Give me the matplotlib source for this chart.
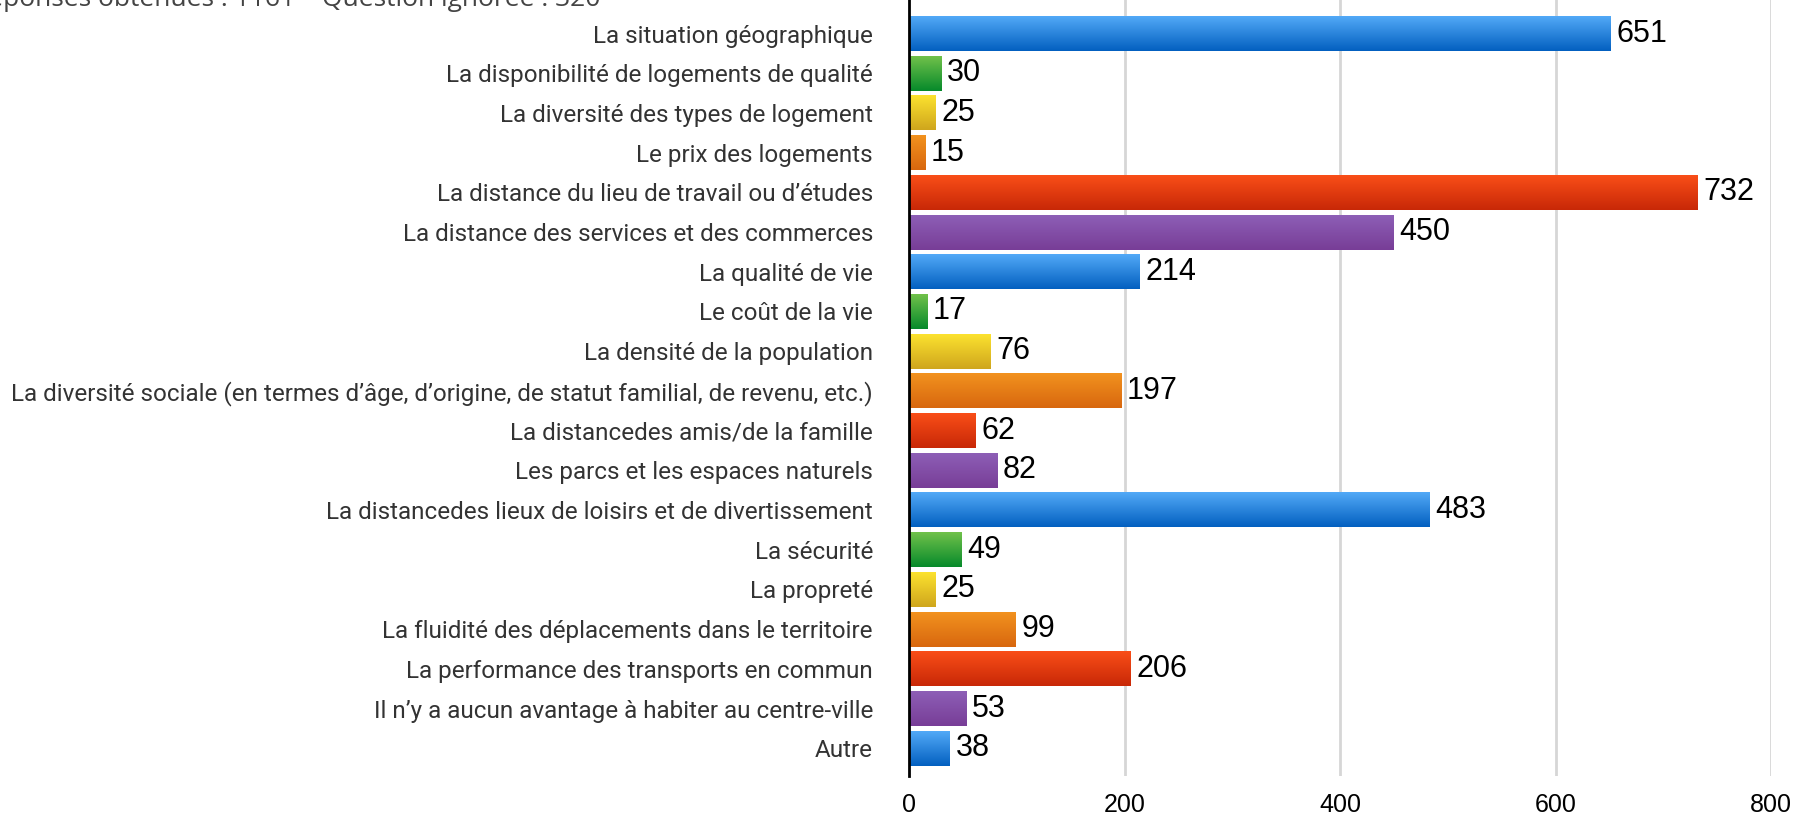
#!/usr/bin/env python3
"""Horizontal gradient bar chart: avantages d'habiter au centre-ville."""

import matplotlib

matplotlib.use("Agg")
import matplotlib.pyplot as plt  # noqa: E402
import numpy as np  # noqa: E402
from matplotlib.colors import LinearSegmentedColormap  # noqa: E402

CATEGORIES = [
    "La situation géographique",
    "La disponibilité de logements de qualité",
    "La diversité des types de logement",
    "Le prix des logements",
    "La distance du lieu de travail ou d’études",
    "La distance des services et des commerces",
    "La qualité de vie",
    "Le coût de la vie",
    "La densité de la population",
    "La diversité sociale (en termes d’âge, d’origine, de statut familial, de revenu, etc.)",
    "La distancedes amis/de la famille",
    "Les parcs et les espaces naturels",
    "La distancedes lieux de loisirs et de divertissement",
    "La sécurité",
    "La propreté",
    "La fluidité des déplacements dans le territoire",
    "La performance des transports en commun",
    "Il n’y a aucun avantage à habiter au centre-ville",
    "Autre",
]
VALUES = [651, 30, 25, 15, 732, 450, 214, 17, 76, 197, 62, 82, 483, 49, 25, 99, 206, 53, 38]
X_TICKS = [0, 200, 400, 600, 800]
HEADER = "Réponses obtenues : 1161 – Question ignorée : 320"

# (top, bottom) colours of each gradient, cycling down the bars
PALETTE = [
    ("#52a9f7", "#0360c0"),  # blue
    ("#70c14a", "#078a2b"),  # green
    ("#fce22f", "#cfa61d"),  # yellow
    ("#f2921f", "#d8670e"),  # orange
    ("#f94e18", "#c82807"),  # red
    ("#8d5fb6", "#783d97"),  # purple
]

W, H, DPI = 1814, 815, 100
LABEL_FONT = "Roboto"
HEADER_FONT = "Open Sans"
NUM_FONT = "Liberation Sans"


def main() -> None:
    fig = plt.figure(figsize=(W / DPI, H / DPI), dpi=DPI)
    left, right = 909 / W, 1771 / W
    bottom, top = 1 - 776 / H, 1.0
    ax = fig.add_axes([left, bottom, right - left, top - bottom])

    n = len(CATEGORIES)
    ys = np.arange(n)
    bar_h = 0.88
    bars = ax.barh(ys, VALUES, height=bar_h, color="none", zorder=3)

    grad = np.linspace(0, 1, 64).reshape(-1, 1)
    for i, rect in enumerate(bars):
        c_top, c_bot = PALETTE[i % len(PALETTE)]
        cmap = LinearSegmentedColormap.from_list(f"g{i}", [c_top, c_bot])
        x0, y0 = rect.get_x(), rect.get_y()
        x1, y1 = x0 + rect.get_width(), y0 + rect.get_height()
        # y axis is inverted: y0 is the top edge on screen
        ax.imshow(grad, cmap=cmap, aspect="auto", extent=(x0, x1, y1, y0),
                  interpolation="bilinear", zorder=3)
        ax.annotate(str(VALUES[i]), xy=(x1, ys[i]), xytext=(4, 0),
                    textcoords="offset points", va="center", ha="left",
                    fontsize=22, family=NUM_FONT, color="black", zorder=4)

    ax.set_xlim(0, 800)
    ax.set_ylim(18.70, -0.845)
    ax.set_yticks(ys)
    ax.set_yticklabels(CATEGORIES, family=LABEL_FONT, fontsize=17.5,
                       color="#333333")
    ax.set_xticks(X_TICKS)
    ax.set_xticklabels([str(t) for t in X_TICKS], family=NUM_FONT, fontsize=18)
    ax.tick_params(axis="y", length=0, pad=26)
    ax.tick_params(axis="x", length=0, pad=12)

    for side in ("top", "right", "bottom"):
        ax.spines[side].set_visible(False)
    ax.spines["left"].set_linewidth(2)
    ax.spines["left"].set_color("black")
    ax.spines["left"].set_zorder(5)

    for t in X_TICKS[1:]:
        ax.axvline(t, color="#d6d6d6", linewidth=2, zorder=1)

    # header line, mostly clipped by the top edge as in the source
    fig.text(600 / W, 1 - 6 / H, HEADER, family=HEADER_FONT, fontsize=19,
             color="#444444", va="baseline", ha="right")

    fig.savefig("out.png", dpi=DPI)
    plt.close(fig)


if __name__ == "__main__":
    main()
